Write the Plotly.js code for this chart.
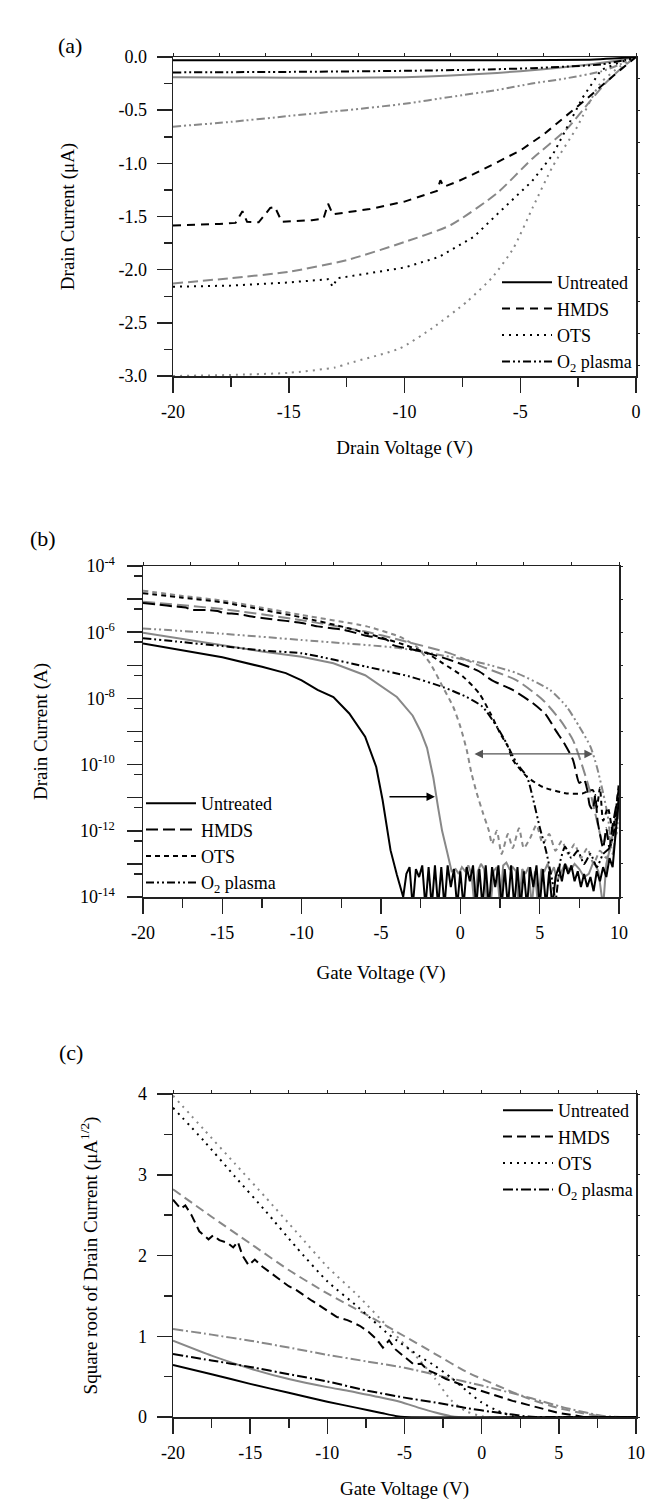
<!DOCTYPE html>
<html><head><meta charset="utf-8">
<script src="https://cdn.plot.ly/plotly-3.0.1.min.js"></script>
<style>html,body{margin:0;padding:0;background:#fff}#chart{width:649px;height:1501px}</style>
</head><body><div id="chart"></div>
<script>
// ---------- Panel (a): output characteristics, drain current (uA) vs drain voltage (V)
const aUntreatedBlackX = [-20,-15,-10,-5,-2,-1,0];
const aUntreatedBlackY = [-0.03,-0.03,-0.03,-0.03,-0.025,-0.015,0];
const aUntreatedGrayX = [-20,-17.5,-15,-12.5,-10,-8,-6,-4,-2,-1,0];
const aUntreatedGrayY = [-0.19,-0.192,-0.195,-0.195,-0.19,-0.175,-0.15,-0.115,-0.07,-0.04,0];
const aHmdsBlackX = [-20,-19,-18,-17.3,-17.0,-16.8,-16.3,-15.8,-15.6,-15.3,-14.8,-14,-13.5,-13.3,-13.1,-12.5,-11.5,-10,-9,-8.6,-8.45,-8.3,-7.7,-7,-6,-5,-4,-3,-2,-1,0];
const aHmdsBlackY = [-1.585,-1.58,-1.57,-1.56,-1.45,-1.55,-1.555,-1.42,-1.41,-1.55,-1.545,-1.535,-1.52,-1.38,-1.48,-1.46,-1.43,-1.36,-1.29,-1.26,-1.16,-1.22,-1.17,-1.10,-0.99,-0.88,-0.73,-0.55,-0.37,-0.18,0];
const aHmdsGrayX = [-20,-17.5,-15,-12.5,-10,-8,-6,-4.5,-3,-2,-1.25,-0.55,0];
const aHmdsGrayY = [-2.13,-2.08,-2.02,-1.91,-1.74,-1.58,-1.28,-0.96,-0.68,-0.42,-0.23,-0.09,0];
const aOtsBlackX = [-20,-17.5,-15,-14,-13.3,-13.1,-12.9,-12,-10,-8.5,-7,-6,-4.5,-3.6,-3,-2.3,-1.5,-0.7,0];
const aOtsBlackY = [-2.16,-2.15,-2.12,-2.10,-2.09,-2.16,-2.08,-2.05,-1.98,-1.88,-1.69,-1.48,-1.17,-0.92,-0.67,-0.38,-0.12,-0.05,0];
const aOtsGrayX = [-20,-17.5,-15,-13,-12.4,-10.2,-8.8,-7.3,-6.2,-5.3,-4.45,-3.6,-2.55,-1.55,-0.7,0];
const aOtsGrayY = [-3.0,-2.99,-2.97,-2.92,-2.88,-2.74,-2.55,-2.30,-2.07,-1.80,-1.41,-1.03,-0.66,-0.25,-0.09,0];
const aO2BlackX = [-20,-15,-10,-7,-4.5,-3,-1.5,-0.5,0];
const aO2BlackY = [-0.145,-0.14,-0.13,-0.12,-0.105,-0.09,-0.07,-0.03,0];
const aO2GrayX = [-20,-17.5,-15,-12.5,-10,-8,-6,-4.5,-3,-1.5,-0.7,0];
const aO2GrayY = [-0.655,-0.61,-0.555,-0.5,-0.44,-0.375,-0.31,-0.25,-0.2,-0.135,-0.07,0];
const aXTicks = [-20,-15,-10,-5,0];
const aXTickText = ['-20','-15','-10','-5','0'];
const aXMinor = [-17.5,-12.5,-7.5,-2.5];
const aYTicks = [0,-0.5,-1,-1.5,-2,-2.5,-3];
const aYTickText = ['0.0','-0.5','-1.0','-1.5','-2.0','-2.5','-3.0'];
const aYMinor = [-0.25,-0.75,-1.25,-1.75,-2.25,-2.75];

// ---------- Panel (b): transfer characteristics, drain current (A) vs gate voltage (V)
const bUntreatedBlackX = [-20,-17.5,-15,-12.5,-11,-10,-9,-8,-7,-6,-5.6,-5.3,-4.9,-4.6,-4.4,-4.0,-3.6,
  -3.4,-3.2,-3.0,-2.8,-2.6,-2.4,-2.2,-2.0,-1.8,-1.6,-1.4,-1.2,-1.0,-0.8,-0.6,-0.4,-0.2,0,0.2,0.4,0.6,0.8,1.0,1.2,1.4,1.6,1.8,2.0,2.2,2.4,2.6,2.8,3.0,3.2,3.4,3.6,3.8,4.0,4.2,4.4,4.6,4.8,5.0,5.2,5.4,5.6,5.8,6.0,6.2,6.4,6.6,6.8,7.0,7.2,7.4,7.6,7.8,8.0,8.2,8.4,8.6,8.8,9.0,9.2,9.4,9.6,9.8,10];
const bUntreatedBlackY = [4.6e-7,2.9e-7,1.75e-7,9e-8,5.8e-8,3.5e-8,1.8e-8,1.1e-8,3.5e-9,7e-10,2.2e-10,8.5e-11,8.5e-12,1e-12,2.6e-13,4.7e-14,1e-14,
  5e-14,8e-14,5e-15,7e-14,4e-14,9e-14,5e-15,8e-14,5e-15,9e-14,5e-15,8e-14,5e-15,9e-14,2e-14,7e-14,5e-15,6e-14,5e-15,8e-14,3e-14,9e-14,5e-15,7e-14,5e-15,9e-14,5e-15,8e-14,2e-14,9e-14,5e-15,7e-14,5e-15,9e-14,5e-15,8e-14,5e-15,6e-14,5e-15,8e-14,2e-14,9e-14,5e-15,7e-14,5e-15,6e-14,5e-15,4e-14,8e-14,3e-14,1e-13,5e-14,9e-14,3e-14,6e-14,2e-14,5e-14,2e-14,4e-14,1.5e-14,6e-14,3e-14,8e-14,4e-14,1.5e-13,8e-14,1e-12,1e-11];
const bUntreatedGrayX = [-20,-17.5,-15,-12.5,-10,-8,-6,-4,-3,-2.5,-2.1,-1.7,-1.4,-1.15,-0.85,-0.55,
  -0.3,-0.1,0.1,0.3,0.5,0.7,0.9,1.1,1.3,1.5,1.7,1.9,2.1,2.3,2.5,2.7,2.9,3.1,3.3,3.5,3.7,3.9,4.1,4.3,4.5,4.7,4.9,5.1,5.3,5.5,5.7,5.9,6.1,6.3,6.6,6.9,7.2,7.5,7.8,8.1,8.4,8.7,9.0,9.2,9.5,9.8,10];
const bUntreatedGrayY = [9.7e-7,6.3e-7,4e-7,2.6e-7,1.8e-7,1.15e-7,5e-8,1.1e-8,3e-9,1e-9,3.2e-10,4e-11,5e-12,1e-12,2.5e-13,6e-14,
  7e-14,5e-14,8e-14,6e-14,9e-14,5e-14,5e-15,6e-14,1e-13,7e-14,5e-15,5e-15,6e-14,8e-14,5e-15,9e-14,1.1e-13,7e-14,8e-14,6e-14,5e-15,7e-14,5e-14,8e-14,5e-15,6e-14,5e-15,7e-14,6e-14,1e-13,5e-14,8e-14,3e-14,5e-14,1e-13,6e-14,1e-13,7e-14,4e-14,5e-14,1.2e-13,6e-14,5e-15,1e-13,4e-13,3e-12,1e-11];
const bHmdsBlackX = [-20,-19,-18,-17.3,-17,-16,-15.3,-15,-14,-13,-12,-11,-10,-9,-8,-7.4,-6,-4.6,-4.3,-2.4,-0.65,0.8,1.2,2.0,3.3,4.6,5.4,6.0,6.6,7.1,7.5,7.8,8.0,8.15,8.35,8.5,8.65,8.8,9.0,9.2,9.4,9.6,9.8,10];
const bHmdsBlackY = [7.6e-6,6.8e-6,6e-6,5.6e-6,4.8e-6,4.7e-6,4.4e-6,3.9e-6,3.5e-6,2.9e-6,2.5e-6,2.2e-6,1.9e-6,1.5e-6,1.3e-6,1.2e-6,8e-7,5.8e-7,4.2e-7,2.6e-7,1.45e-7,8e-8,6.5e-8,3.5e-8,1.8e-8,7e-9,3.2e-9,1.1e-9,4e-10,1.4e-10,2.8e-11,3.5e-11,1.7e-11,6e-12,4.3e-12,1.2e-11,2e-12,8e-13,3e-13,1.2e-12,3e-13,1.5e-12,5e-12,2e-11];
const bHmdsGrayX = [-20,-15,-10,-6,-3.8,-0.65,1.4,3.55,5.2,6.3,7.1,7.7,8.2,8.6,9.0,9.3,9.6,9.8,10];
const bHmdsGrayY = [8.3e-6,5e-6,2.3e-6,1.05e-6,5.8e-7,2.3e-7,9e-8,3.5e-8,9e-9,2.2e-9,5.5e-10,8.7e-11,1.4e-11,2.1e-12,4e-13,1e-12,2e-13,1e-12,5e-12];
const bOtsBlackX = [-20,-17.5,-15,-12.5,-10,-7,-3.8,-2.1,-1.1,0.16,1.2,1.9,2.5,3.0,3.3,4.2,5.2,6.7,7.7,8.35,8.6,8.8,9.0,9.3,9.6,9.8,10];
const bOtsBlackY = [1.5e-5,1.1e-5,8e-6,4.8e-6,2.8e-6,1.3e-6,4.6e-7,2.3e-7,1.15e-7,4.6e-8,1.4e-8,3.5e-9,9e-10,3.5e-10,1.4e-10,4.3e-11,2.1e-11,1.35e-11,1.35e-11,1.7e-11,5e-12,2e-11,2e-12,5e-12,1e-12,4e-12,3e-11];
const bOtsGrayX = [-20,-17.5,-15,-12.5,-10,-5.9,-3.8,-2.75,-1.9,-1.1,-0.45,0,0.4,0.7,1.03,1.43,1.8,2.0,2.3,2.6,3.0,3.3,3.7,4.0,4.4,4.8,5.2,5.6,6.0,6.4,6.8,7.2,7.6,8.0,8.4,8.8,9.2,9.6,10];
const bOtsGrayY = [1.8e-5,1.25e-5,9e-6,5.5e-6,3.3e-6,1.5e-6,7.2e-7,3.6e-7,1.15e-7,2.2e-8,5.6e-9,1.4e-9,2.8e-10,5.5e-11,1.4e-11,3.4e-12,1e-12,4e-13,1e-12,2e-13,8e-13,3e-13,1.2e-12,3e-13,6e-13,1.5e-12,4e-13,8e-13,2.5e-13,5e-13,2e-13,4e-13,1.5e-13,3e-13,1e-13,2.5e-13,1.5e-13,6e-13,1e-11];
const bO2BlackX = [-20,-17.5,-15,-12.5,-10,-5.9,-3.2,-1.1,0.4,1.4,2.3,2.9,3.55,4.2,4.6,5.0,5.4,5.8,6.0,6.3,6.6,7.0,7.4,7.8,8.2,8.6,9.0,9.4,9.7,10];
const bO2BlackY = [6.6e-7,5e-7,3.8e-7,2.8e-7,2.3e-7,9e-8,4.6e-8,2.2e-8,1.1e-8,5.6e-9,1.4e-9,4.5e-10,1.1e-10,4.3e-11,8.5e-12,1.3e-12,2.5e-13,3e-14,8e-15,1.2e-13,3.3e-13,1.5e-13,2.5e-13,1e-13,2e-13,8e-14,2e-13,3e-13,1e-12,1e-11];
const bO2GrayX = [-20,-15,-10,-3.8,-0.65,1.4,3.55,5.65,6.7,7.5,8.2,8.6,9.0,9.3,9.5,9.7,9.85,10];
const bO2GrayY = [1.3e-6,9e-7,5.8e-7,3.3e-7,1.8e-7,1.15e-7,5.8e-8,1.8e-8,5.6e-9,1.4e-9,3.5e-10,8.7e-11,1.4e-11,2.7e-12,5e-13,2e-12,8e-13,1e-11];
const bXTicks = [-20,-15,-10,-5,0,5,10];
const bXTickText = ['-20','-15','-10','-5','0','5','10'];
const bXMinor = [-17.5,-12.5,-7.5,-2.5,2.5,7.5];
const bYTicks = [1e-4,1e-6,1e-8,1e-10,1e-12,1e-14];
const bYTickText = ['10<sup>-4</sup>','10<sup>-6</sup>','10<sup>-8</sup>','10<sup>-10</sup>','10<sup>-12</sup>','10<sup>-14</sup>'];
const bYOddDecades = [1e-5,1e-7,1e-9,1e-11,1e-13];
const bYAllDecades = [1e-4,1e-5,1e-6,1e-7,1e-8,1e-9,1e-10,1e-11,1e-12,1e-13,1e-14];
const bYMinor = [5e-5,5e-6,5e-7,5e-8,5e-9,5e-10,5e-11,5e-12,5e-13,5e-14];
// arrows (gate-voltage shift), [x tail, x head, current]
const bArrowShift = [-4.56,-1.6,1.07e-11];
const bArrowHysteresis = [0.8,8.35,2.1e-10];

// ---------- Panel (c): square root of drain current (uA^1/2) vs gate voltage (V)
const cUntreatedBlackX = [-20,-17.5,-15,-12.5,-10,-8,-6.5,-5.5,-5,10];
const cUntreatedBlackY = [0.645,0.53,0.41,0.30,0.19,0.11,0.05,0.01,0,0];
const cUntreatedGrayX = [-20,-17.5,-15,-12.5,-10,-8.5,-7,-5.3,-4,-3,-2,-1.5,10];
const cUntreatedGrayY = [0.945,0.76,0.60,0.47,0.37,0.32,0.26,0.19,0.11,0.055,0.01,0,0];
const cHmdsBlackX = [-20,-19.5,-19.2,-18.8,-18.3,-17.7,-17.4,-17,-16.5,-16.1,-15.8,-15.5,-15.1,-14.7,-14.2,-13.5,-13,-12.5,-12,-11.5,-11,-10.5,-10,-9.4,-8.7,-7.9,-7.3,-6.8,-6.4,-6.0,-5.6,-5.0,-4.4,-3.9,-3.5,-3.0,-2.3,-1.3,0,1,2,3,4,5,6,6.6,10];
const cHmdsBlackY = [2.69,2.58,2.62,2.50,2.30,2.20,2.25,2.19,2.16,2.10,2.17,2.00,1.88,1.95,1.86,1.76,1.70,1.62,1.57,1.50,1.44,1.38,1.32,1.24,1.20,1.13,1.05,0.96,0.86,0.95,0.84,0.74,0.65,0.66,0.58,0.54,0.47,0.40,0.32,0.26,0.20,0.15,0.10,0.05,0.02,0,0];
const cHmdsGrayX = [-20,-17.5,-15,-12.5,-10,-7.5,-5,-3,-1,1,3,5,7,8,10];
const cHmdsGrayY = [2.82,2.48,2.15,1.82,1.53,1.27,1.0,0.78,0.56,0.39,0.23,0.11,0.03,0,0];
const cOtsBlackX = [-20,-18,-16,-14,-12,-10,-8,-6,-4,-3,-2,-1,0,1,2,2.5,10];
const cOtsBlackY = [3.83,3.42,2.98,2.55,2.10,1.68,1.36,1.02,0.75,0.63,0.49,0.33,0.18,0.08,0.01,0,0];
const cOtsGrayX = [-20,-18,-16,-14,-12,-10,-8,-6,-5,-4,-3,-2,-1,0,0.5,10];
const cOtsGrayY = [3.98,3.56,3.14,2.72,2.29,1.86,1.50,1.10,0.90,0.70,0.47,0.21,0.07,0.01,0,0];
const cO2BlackX = [-20,-17.5,-15,-12.5,-10,-7.5,-5,-3,-1,1,2,3,3.5,10];
const cO2BlackY = [0.78,0.70,0.62,0.53,0.44,0.33,0.24,0.18,0.11,0.055,0.03,0.005,0,0];
const cO2GrayX = [-20,-17.5,-15,-12.5,-10,-7.5,-5,-2.5,0,2.5,4,5.5,7,8,9,10];
const cO2GrayY = [1.09,1.02,0.945,0.86,0.77,0.69,0.61,0.50,0.39,0.27,0.19,0.11,0.045,0.01,0,0];
const cXTicks = [-20,-15,-10,-5,0,5,10];
const cXTickText = ['-20','-15','-10','-5','0','5','10'];
const cXMinor = [-17.5,-12.5,-7.5,-2.5,2.5,7.5];
const cYTicks = [0,1,2,3,4];
const cYTickText = ['0','1','2','3','4'];
const cYMinor = [0.5,1.5,2.5,3.5];

const legendNames = ['Untreated','HMDS','OTS','O<sub>2</sub> plasma'];

// ---------- styling
const FONT = 'Liberation Serif, Times New Roman, serif';
const BLACK = '#000000', GRAY = '#888888';
const LW = 2;

function tr(x, y, color, dash, xa, ya, name, legend, show, shape) {
  return {type:'scatter', mode:'lines', x:x, y:y, xaxis:xa, yaxis:ya,
    name:name || 'gray', legend:legend, showlegend:!!show, hoverinfo:'skip',
    line:{color:color, width:LW, dash:dash, shape:shape || 'spline', smoothing:0.6}};
}
const D = {
  aH:'8px,6px', aHg:'10px,5px', aO:'2px,5px', aP:'8px,3px,2px,3px,2px,3px',
  bH:'12px,5px', bO:'5px,4px', bP:'8px,3px,2px,3px,2px,3px',
  cH:'9px,5px', cO:'2px,5px', cP:'10px,3px,2px,3px'
};

const traces = [
  // panel a
  tr(aUntreatedGrayX,aUntreatedGrayY,GRAY,'solid','x','y'),
  tr(aHmdsGrayX,aHmdsGrayY,GRAY,D.aHg,'x','y'),
  tr(aOtsGrayX,aOtsGrayY,GRAY,D.aO,'x','y'),
  tr(aO2GrayX,aO2GrayY,GRAY,D.aP,'x','y'),
  tr(aUntreatedBlackX,aUntreatedBlackY,BLACK,'solid','x','y',legendNames[0],'legend',true),
  tr(aHmdsBlackX,aHmdsBlackY,BLACK,D.aH,'x','y',legendNames[1],'legend',true,'linear'),
  tr(aOtsBlackX,aOtsBlackY,BLACK,D.aO,'x','y',legendNames[2],'legend',true,'linear'),
  tr(aO2BlackX,aO2BlackY,BLACK,D.aP,'x','y',legendNames[3],'legend',true),
  // panel b
  tr(bUntreatedGrayX,bUntreatedGrayY,GRAY,'solid','x2','y2',null,'legend2',false,'linear'),
  tr(bHmdsGrayX,bHmdsGrayY,GRAY,D.bH,'x2','y2',null,'legend2',false),
  tr(bOtsGrayX,bOtsGrayY,GRAY,D.bO,'x2','y2',null,'legend2',false),
  tr(bO2GrayX,bO2GrayY,GRAY,D.bP,'x2','y2',null,'legend2',false),
  tr(bUntreatedBlackX,bUntreatedBlackY,BLACK,'solid','x2','y2',legendNames[0],'legend2',true,'linear'),
  tr(bHmdsBlackX,bHmdsBlackY,BLACK,D.bH,'x2','y2',legendNames[1],'legend2',true),
  tr(bOtsBlackX,bOtsBlackY,BLACK,D.bO,'x2','y2',legendNames[2],'legend2',true),
  tr(bO2BlackX,bO2BlackY,BLACK,D.bP,'x2','y2',legendNames[3],'legend2',true),
  // panel c
  tr(cUntreatedGrayX,cUntreatedGrayY,GRAY,'solid','x3','y3',null,'legend3',false),
  tr(cHmdsGrayX,cHmdsGrayY,GRAY,D.cH,'x3','y3',null,'legend3',false),
  tr(cOtsGrayX,cOtsGrayY,GRAY,D.cO,'x3','y3',null,'legend3',false),
  tr(cO2GrayX,cO2GrayY,GRAY,D.cP,'x3','y3',null,'legend3',false),
  tr(cUntreatedBlackX,cUntreatedBlackY,BLACK,'solid','x3','y3',legendNames[0],'legend3',true),
  tr(cHmdsBlackX,cHmdsBlackY,BLACK,D.cH,'x3','y3',legendNames[1],'legend3',true,'linear'),
  tr(cOtsBlackX,cOtsBlackY,BLACK,D.cO,'x3','y3',legendNames[2],'legend3',true),
  tr(cO2BlackX,cO2BlackY,BLACK,D.cP,'x3','y3',legendNames[3],'legend3',true),
  // empty traces so the extra tick-only axes are drawn
  {type:'scatter',x:[],y:[],xaxis:'x4',yaxis:'y',showlegend:false,hoverinfo:'skip'},
  {type:'scatter',x:[],y:[],xaxis:'x',yaxis:'y4',showlegend:false,hoverinfo:'skip'},
  {type:'scatter',x:[],y:[],xaxis:'x5',yaxis:'y2',showlegend:false,hoverinfo:'skip'},
  {type:'scatter',x:[],y:[],xaxis:'x2',yaxis:'y5',showlegend:false,hoverinfo:'skip'},
  {type:'scatter',x:[],y:[],xaxis:'x6',yaxis:'y3',showlegend:false,hoverinfo:'skip'},
  {type:'scatter',x:[],y:[],xaxis:'x3',yaxis:'y6',showlegend:false,hoverinfo:'skip'},
  {type:'scatter',x:[],y:[],xaxis:'x2',yaxis:'y7',showlegend:false,hoverinfo:'skip'}
];

const W = 649, H = 1501;
const px = v => v / W, py = v => 1 - v / H;
const AX = '#222';
const tickFont = {family:FONT, size:18, color:'#000'};
const titleFont = {family:FONT, size:19, color:'#000'};

function mainAxis(o) {
  return Object.assign({showgrid:false, zeroline:false, showline:true, linecolor:AX, linewidth:1.5,
    mirror:true, ticks:'outside', ticklen:15, tickwidth:1.5, tickcolor:AX, tickfont:tickFont,
    tickmode:'array', fixedrange:true, automargin:false}, o);
}
function minor(vals, len) {
  return {tickmode:'array', tickvals:vals, ticks:'outside', ticklen:len, tickwidth:1.5, tickcolor:AX, showgrid:false};
}
function smallAxis(o) {
  return Object.assign({showgrid:false, zeroline:false, showline:false, ticks:'outside', ticklen:3,
    tickwidth:1, tickcolor:AX, showticklabels:false, fixedrange:true}, o);
}

const layout = {
  width:W, height:H, margin:{l:0,r:0,t:0,b:0}, paper_bgcolor:'#fff', plot_bgcolor:'#fff',
  font:{family:FONT, color:'#000'}, showlegend:true,
  xaxis: mainAxis({domain:[px(173),px(636)], anchor:'y', range:[-20,0], tickvals:aXTicks, ticktext:aXTickText,
    minor:minor(aXMinor,9), ticklabelstandoff:4,
    title:{text:'Drain Voltage (V)', font:titleFont, standoff:19}}),
  yaxis: mainAxis({domain:[py(376),py(57)], anchor:'x', range:[-3,0], tickvals:aYTicks, ticktext:aYTickText,
    minor:minor(aYMinor,8), ticklabelstandoff:6,
    title:{text:'Drain Current (\u03bcA)', font:titleFont, standoff:39}}),
  xaxis2: mainAxis({domain:[px(143),px(619)], anchor:'y2', range:[-20,10], tickvals:bXTicks, ticktext:bXTickText,
    minor:minor(bXMinor,9), ticklabelstandoff:4,
    title:{text:'Gate Voltage (V)', font:titleFont, standoff:23}}),
  yaxis2: mainAxis({domain:[py(897),py(566)], anchor:'x2', type:'log', range:[-14,-4], tickvals:bYTicks, ticktext:bYTickText,
    minor:minor(bYMinor,8), ticklabelstandoff:8,
    title:{text:'Drain Current (A)', font:titleFont, standoff:27}}),
  xaxis3: mainAxis({domain:[px(173),px(636)], anchor:'y3', range:[-20,10], tickvals:cXTicks, ticktext:cXTickText,
    minor:minor(cXMinor,9), ticklabelstandoff:4,
    title:{text:'Gate Voltage (V)', font:titleFont, standoff:19}}),
  yaxis3: mainAxis({domain:[py(1417),py(1094)], anchor:'x3', range:[0,4], tickvals:cYTicks, ticktext:cYTickText,
    minor:minor(cYMinor,8), ticklabelstandoff:6,
    title:{text:'Square root of Drain Current (\u03bcA<sup>1/2</sup>)', font:titleFont, standoff:35}}),
  xaxis4: smallAxis({overlaying:'x', anchor:'y', side:'top', range:[-20,0], tickmode:'linear', tick0:-20, dtick:2}),
  yaxis4: smallAxis({overlaying:'y', anchor:'x', side:'right', range:[-3,0], tickmode:'linear', tick0:-0.2, dtick:0.3}),
  xaxis5: smallAxis({overlaying:'x2', anchor:'y2', side:'top', range:[-20,10], tickmode:'linear', tick0:-20, dtick:3}),
  yaxis5: smallAxis({overlaying:'y2', anchor:'x2', side:'right', type:'log', range:[-14,-4], tickmode:'array', tickvals:bYAllDecades}),
  xaxis6: smallAxis({overlaying:'x3', anchor:'y3', side:'top', range:[-20,10], tickmode:'linear', tick0:-20, dtick:2.5}),
  yaxis6: smallAxis({overlaying:'y3', anchor:'x3', side:'right', range:[0,4], tickmode:'linear', tick0:0, dtick:0.5}),
  // long unlabeled ticks at the odd decades of panel (b)
  yaxis7: smallAxis({overlaying:'y2', anchor:'x2', side:'left', type:'log', range:[-14,-4], tickmode:'array',
    tickvals:bYOddDecades, ticklen:15, tickwidth:1.5}),
  legend: {x:px(497), y:py(264), xanchor:'left', yanchor:'top', bgcolor:'rgba(0,0,0,0)',
    font:{family:FONT,size:18,color:'#000'}, itemwidth:50, tracegroupgap:0},
  legend2: {x:px(141), y:py(785), xanchor:'left', yanchor:'top', bgcolor:'rgba(0,0,0,0)',
    font:{family:FONT,size:18,color:'#000'}, itemwidth:50, tracegroupgap:0},
  legend3: {x:px(498), y:py(1092), xanchor:'left', yanchor:'top', bgcolor:'rgba(0,0,0,0)',
    font:{family:FONT,size:18,color:'#000'}, itemwidth:50, tracegroupgap:0},
  annotations: [
    {xref:'paper', yref:'paper', x:px(56), y:py(31), text:'(a)', showarrow:false, font:{family:FONT,size:22,color:'#000'}},
    {xref:'paper', yref:'paper', x:px(28), y:py(539), text:'(b)', showarrow:false, font:{family:FONT,size:22,color:'#000'}},
    {xref:'paper', yref:'paper', x:px(57), y:py(1067), text:'(c)', showarrow:false, font:{family:FONT,size:22,color:'#000'}},
    {xref:'x2', yref:'y2', axref:'x2', ayref:'y2', x:bArrowShift[1], y:Math.log10(bArrowShift[2]),
      ax:bArrowShift[0], ay:Math.log10(bArrowShift[2]), text:'', showarrow:true, arrowhead:2, arrowsize:1.3,
      arrowwidth:1.3, arrowcolor:'#000', standoff:0, startstandoff:0},
    {xref:'x2', yref:'y2', axref:'x2', ayref:'y2', x:bArrowHysteresis[1], y:Math.log10(bArrowHysteresis[2]),
      ax:bArrowHysteresis[0], ay:Math.log10(bArrowHysteresis[2]), text:'', showarrow:true, arrowhead:2, startarrowhead:2,
      arrowside:'end+start', arrowsize:1.3, startarrowsize:1.3, arrowwidth:1.3, arrowcolor:'#555', standoff:0, startstandoff:0}
  ]
};

Plotly.newPlot('chart', traces, layout, {staticPlot:true, displayModeBar:false});
</script></body></html>
